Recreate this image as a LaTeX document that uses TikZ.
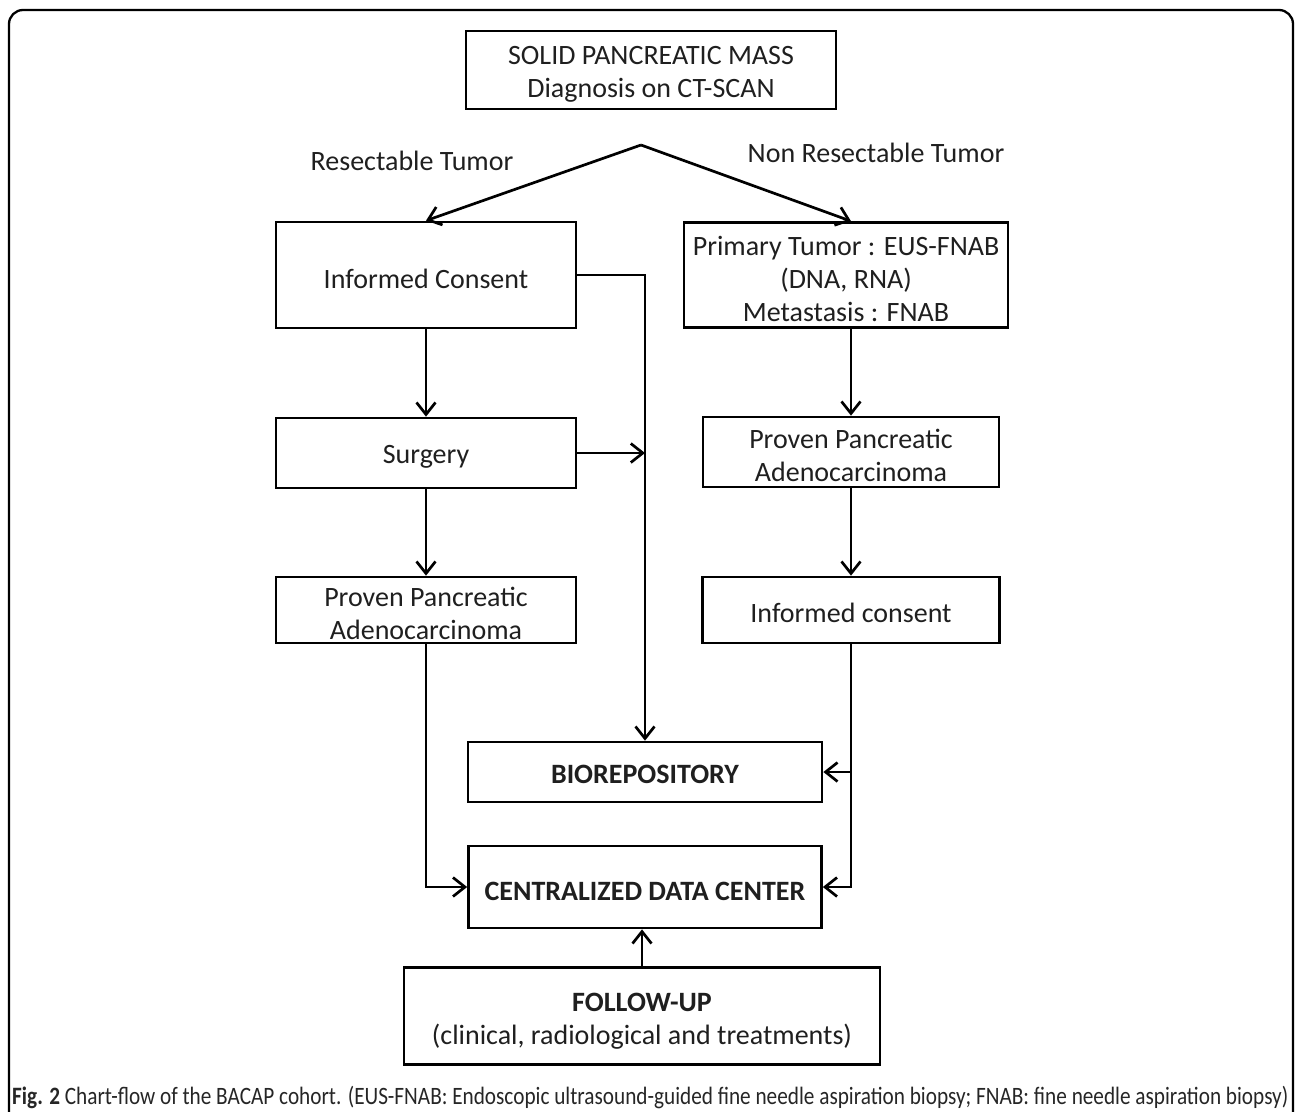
\documentclass[tikz,border=0pt]{standalone}
\usepackage{fontspec}
\setmainfont{Carlito}
\usetikzlibrary{arrows.meta}
\begin{document}
\begin{tikzpicture}[x=1pt,y=-1pt,
  box/.style={draw, line width=2.7pt, inner sep=0pt},
  txt/.style={align=center, inner sep=0pt, font=\fontsize{28}{33}\selectfont, text=black!88},
  lbl/.style={font=\fontsize{28}{33}\selectfont, text=black!88, inner sep=0pt},
  arr/.style={line width=2.7pt, -{Straight Barb[length=12pt,width=19pt,line width=2.7pt]}}]
\useasboundingbox (0,0) rectangle (1295,1111);
\draw[line width=2.3pt, rounded corners=14pt] (9,1130) -- (9,10) -- (1293,10) -- (1293,1130);

\node[box, minimum width=370pt, minimum height=78pt] (top) at (651,70) {};
\node[txt] (top-t) at ([yshift=-4pt]top.center) {SOLID PANCREATIC MASS\\Diagnosis on CT-SCAN};
\node[lbl] (rl) at (412,161) {Resectable Tumor};
\node[lbl] (nrl) at (876,153) {Non Resectable Tumor};
\coordinate (apex) at (641,145);

\node[box, minimum width=300pt, minimum height=106pt] (ic) at (426,275) {};
\node[txt] (ic-t) at ([yshift=-4pt]ic.center) {Informed Consent};
\node[box, minimum width=324pt, minimum height=105pt] (pt) at (846,275) {};
\node[txt] (pt-t) at ([yshift=-4pt]pt.center) {Primary Tumor : EUS-FNAB\\(DNA, RNA)\\Metastasis : FNAB};
\node[box, minimum width=300pt, minimum height=70pt] (surg) at (426,453) {};
\node[txt] (surg-t) at ([yshift=-4pt]surg.center) {Surgery};
\node[box, minimum width=296pt, minimum height=70pt] (ppr) at (851,452) {};
\node[txt] (ppr-t) at ([yshift=-3pt]ppr.center) {Proven Pancreatic\\Adenocarcinoma};
\node[box, minimum width=300pt, minimum height=66pt] (ppl) at (426,610) {};
\node[txt] (ppl-t) at ([yshift=-3pt]ppl.center) {Proven Pancreatic\\Adenocarcinoma};
\node[box, minimum width=297pt, minimum height=66pt] (icr) at (851,610) {};
\node[txt] (icr-t) at ([yshift=-3pt]icr.center) {Informed consent};
\node[box, minimum width=354pt, minimum height=60pt] (bio) at (645,772) {};
\node[txt, font=\fontsize{28}{33}\selectfont\bfseries] (bio-t) at ([yshift=-2pt]bio.center) {BIOREPOSITORY};
\node[box, minimum width=353pt, minimum height=82pt] (cdc) at (645,887) {};
\node[txt, font=\fontsize{28}{33}\selectfont\bfseries] (cdc-t) at ([yshift=-4pt]cdc.center) {CENTRALIZED DATA CENTER};
\node[box, minimum width=476pt, minimum height=97pt] (fu) at (642,1016) {};
\node[txt] (fu-t) at ([yshift=-5pt]fu.center) {\textbf{FOLLOW-UP}\\(clinical, radiological and treatments)};

\draw[arr] (apex) -- (ic.north);
\draw[arr] (apex) -- (pt.north -| ppr.north);
\draw[arr] (ic.east) -| (bio.north);
\draw[arr] (surg.east) -- (surg.east -| bio.north);
\draw[arr] (ic.south) -- (surg.north);
\draw[arr] (surg.south) -- (ppl.north);
\draw[arr] (ppl.south) |- (cdc.west);
\draw[arr] (pt.south -| ppr.north) -- (ppr.north);
\draw[arr] (ppr.south) -- (icr.north);
\draw[arr] (icr.south) |- (cdc.east);
\draw[arr] (icr.south |- bio.east) -- (bio.east);
\draw[arr] (fu.north) -- (fu.north |- cdc.south);

\node[anchor=base west, inner sep=0pt, font=\fontsize{25}{30}\selectfont, text=black!85] (cap) at (12,1104)
  {\scalebox{0.85}[1]{\textbf{Fig. 2} Chart-flow of the BACAP cohort. (EUS-FNAB: Endoscopic ultrasound-guided fine needle aspiration biopsy; FNAB: fine needle aspiration biopsy)}};
\end{tikzpicture}
\end{document}
